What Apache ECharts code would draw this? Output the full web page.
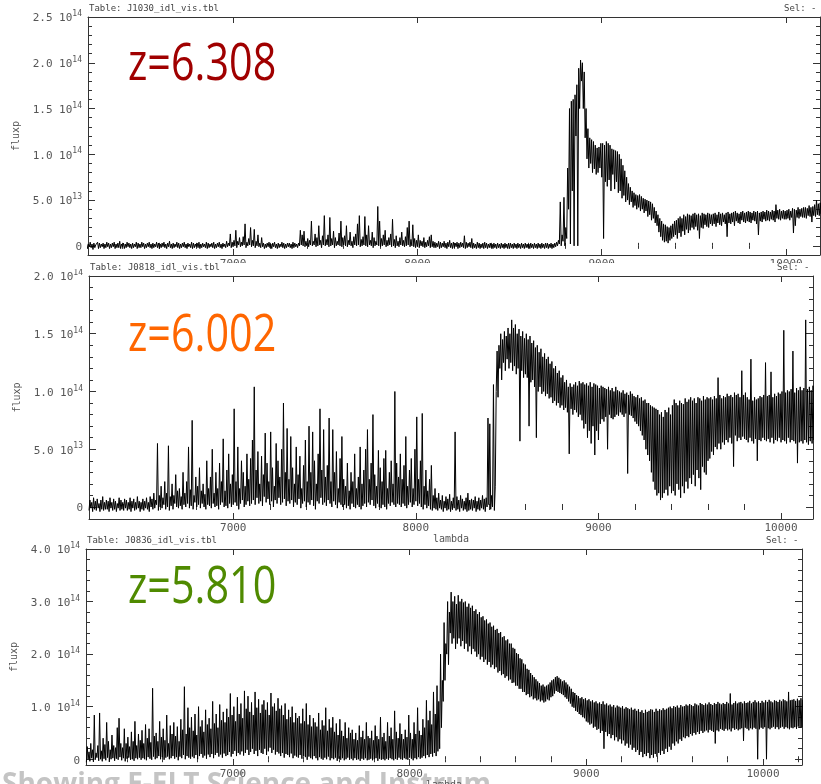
<!DOCTYPE html>
<html><head><meta charset="utf-8">
<script src="https://cdn.jsdelivr.net/npm/echarts@6/dist/echarts.min.js"></script>
<style>html,body{margin:0;padding:0;background:#fff}#c{width:821px;height:784px}</style>
</head><body><div id="c"></div>
<script>
// ---------------- DATA ----------------
// Flux in units of 1e12. Each noisy spectrum is read off the picture as an upper (hi) and lower (lo)
// envelope on a 10 A wavelength grid; the drawn line runs lo -> hi inside every bin.
const step = 10;
const start1 = 6200;
const hi1 = [
3,2,4,2,3,1,4,3,2,3, 2,4,3,2,3,4,2,3,5,2, 3,2,4,3,2,3,2,4,3,2, 4,3,2,3,4,2,3,2,4,3,
2,3,4,2,3,5,2,3,2,4, 3,2,3,4,2,3,2,4,3,2, 3,4,2,3,2,4,3,2,3,4, 2,3,4,2,3,2,5,3,13,4,
6,17,5,9,4,10,24,4,8,20, 6,18,5,12,3,9,3,2,3,4, 2,3,4,2,3,2,4,3,2,3, 3,2,4,3,2,3,17,12,16,5,
8,6,27,5,13,9,22,6,11,33, 7,12,31,8,16,9,5,14,27,9, 11,22,6,15,5,10,13,24,33,7, 10,32,12,22,6,15,9,5,43,27,
8,12,17,6,9,13,29,7,11,5, 9,15,6,10,20,27,7,23,8,6, 12,6,5,9,4,6,10,12,5,4, 3,5,4,3,5,3,4,6,3,4,
3,4,3,4,3,11,4,3,4,8, 3,2,4,3,2,3,4,3,2,3, 2,3,2,3,2,3,2,3,2,3, 3,2,3,2,3,2,3,2,3,2,
2,3,2,3,2,3,2,3,2,3, 3,2,3,2,3,4,6,48,12,53, 20,85,150,158,160,165,176,194,203,200, 190,150,128,118,116,114,110,107,108,112,
112,110,114,112,110,106,105,104,103,100, 95,88,82,75,68,64,60,58,56,55, 56,54,52,51,50,49,48,46,42,38, 34,30,27,24,23,21,20,22,24,27,
28,30,32,30,34,32,35,34,33,35, 36,34,35,33,36,35,34,36,35,34, 35,36,34,37,35,36,34,36,37,35, 36,37,38,36,35,37,38,36,37,38,
37,36,38,37,38,36,37,38,37,39, 38,37,39,38,45,39,40,38,39,38, 39,40,38,41,40,39,42,40,41,42, 42,41,44,42,43,45,50,46,47,45,
52];
const lo1 = [
-2,-3,-1,-2,-4,-2,-1,-3,-2,-1, -3,-2,-1,-3,-2,-1,-3,-2,-2,-3, -1,-3,-2,-1,-2,-3,-2,-1,-3,-2, -2,-1,-3,-2,-1,-2,-3,-2,-1,-2,
-3,-2,-1,-2,-3,-1,-2,-3,-2,-1, -2,-3,-2,-1,-2,-3,-1,-2,-3,-2, -1,-2,-3,-2,-1,-2,-3,-2,-1,-2, -3,-2,-1,-2,-3,-1,-2,-1,0,-2,
-1,0,-2,1,-1,0,1,-2,0,1, -1,0,-2,0,-1,-2,-1,-3,-2,-1, -2,-3,-1,-2,-3,-2,-1,-2,-3,-2, -1,-2,-3,-2,-1,-2,0,1,0,-1,
0,-1,1,0,1,-1,0,1,-2,1, 0,1,-1,0,1,-2,0,1,0,-1, 1,0,-1,1,0,-2,1,0,1,-1, 0,1,0,-1,1,0,-2,0,1,0,
-1,0,1,-1,0,1,-1,0,-2,0, -1,1,0,-1,0,1,-1,0,-1,-2, -1,-2,0,-1,-2,-1,0,-2,-1,-2, -2,-1,-3,-2,-1,-2,-3,-1,-2,-3,
-2,-1,-3,-2,-1,-2,-3,-2,-1,-2, -3,-2,-3,-2,-3,-2,-3,-2,-3,-2, -2,-3,-2,-3,-2,-3,-2,-3,-2,-3, -3,-2,-3,-2,-3,-2,-3,-2,-3,-2,
-2,-3,-2,-3,-2,-3,-2,-3,-2,-3, -2,-3,-2,-3,-2,-1,0,2,0,5, 0,8,40,2,60,0,120,0,150,180, 150,118,95,85,90,80,84,78,80,85,
75,8,70,65,72,60,78,62,70,58, 60,52,55,48,50,45,48,42,44,40, 42,38,40,36,38,32,34,28,30,25, 22,15,10,6,4,5,3,6,8,10,
12,8,14,10,16,12,18,14,17,20, 18,21,17,8,20,19,23,21,20,24, 22,24,21,25,23,22,26,24,10,25, 24,26,22,27,25,24,28,26,25,27,
26,25,28,27,24,12,27,26,29,27, 28,27,29,28,26,30,29,28,30,29, 29,30,28,31,14,22,31,30,32,31, 31,30,33,32,26,33,32,34,33,35,
40];
const start2 = 6210;
const hi2 = [
6,4,8,5,7,3,6,9,4,6, 5,8,4,7,5,3,8,6,4,7, 6,4,8,5,7,4,9,5,4,7, 5,8,4,9,7,12,6,55,10,18,
8,22,12,53,9,20,10,28,14,16, 9,30,12,22,52,15,75,10,26,18, 34,14,20,11,40,16,26,50,12,30, 16,38,22,59,14,32,46,20,28,85,
22,52,16,40,30,18,46,24,42,58, 104,32,48,20,44,28,64,38,22,65, 34,18,55,40,26,50,90,30,68,24, 61,34,20,52,28,44,16,36,58,22,
70,30,65,40,20,46,85,32,67,26, 36,77,22,67,30,48,16,42,61,24, 18,38,14,30,22,46,16,26,52,20, 32,50,67,24,38,80,28,18,49,34,
22,42,49,16,30,40,20,100,38,26, 46,24,36,61,18,32,42,16,50,78, 24,40,81,18,32,14,24,36,10,16, 8,12,6,10,5,9,7,11,5,8,
65,9,6,10,7,5,8,12,6,7, 6,9,5,8,6,10,7,8,77,72, 10,106,18,135,140,150,145,152,148,155, 150,162,155,158,150,154,148,152,146,150,
145,148,142,144,138,140,134,137,130,133, 128,130,124,126,120,122,116,118,112,114, 108,110,104,107,104,106,108,105,109,107, 108,106,107,105,108,104,107,106,105,103,
105,104,103,102,104,101,103,100,104,101, 100,99,101,98,99,97,100,98,96,95, 97,94,95,92,93,90,90,88,87,86, 85,84,80,82,78,84,82,86,80,88,
93,90,88,92,90,89,94,91,93,95, 92,94,90,95,94,92,96,93,95,94, 95,93,96,94,112,97,94,96,95,98, 96,97,95,99,97,98,95,118,97,99,
95,93,128,92,95,93,94,96,95,97, 125,96,97,117,95,98,96,99,98,100, 153,99,101,100,102,135,99,103,101,104, 101,103,162,102,104,101,105,103,106,104];
const lo2 = [
-3,-1,-4,-2,-3,-1,-4,-2,-3,-2, -2,-4,-1,-3,-2,-4,-1,-3,-2,-3, -1,-3,-2,-4,-1,-3,-2,-1,-4,-2, -3,-1,-2,-4,0,-2,-1,2,-3,0,
-1,2,-2,0,-3,1,-2,3,0,-1, 1,-2,2,0,3,-1,1,-2,4,0, 2,-1,3,0,-2,2,1,-1,3,0, 1,-2,2,4,0,1,-1,3,0,2,
4,1,-2,3,6,0,2,5,1,3, 6,2,8,3,5,1,9,4,7,2, 5,0,6,3,8,2,4,7,1,5, 3,6,0,4,2,7,-1,3,5,0,
4,2,6,1,-2,5,3,8,2,4, 1,6,3,0,5,2,-1,4,2,0, 2,-1,1,-2,3,0,-1,2,0,-2, 1,3,0,4,2,6,1,-1,3,0,
-1,2,0,-2,3,1,4,2,0,3, 2,0,3,1,-1,2,4,0,2,5, 1,3,0,-2,2,-1,1,-2,-3,-1, -2,-3,-1,-2,-4,-1,-3,-2,-4,-2,
-1,-3,-2,-4,-1,-3,-2,-4,-3,-2, -3,-1,-4,-2,-3,-1,-2,-4,0,2, -2,0,-3,100,95,120,110,125,118,128, 120,125,118,122,115,120,57,118,112,115,
112,70,108,110,104,60,100,104,98,100, 96,98,94,95,90,92,88,90,86,88, 84,86,82,46,85,80,84,82,78,80, 75,68,72,60,66,55,70,45,66,58,
72,76,74,78,50,80,77,76,78,80, 79,82,80,78,81,29,80,79,77,74, 72,70,66,62,58,50,45,40,30,22, 15,10,12,6,8,12,15,10,18,12,
14,10,20,15,8,18,12,22,16,25, 20,28,18,32,25,15,35,30,28,40, 42,48,45,52,50,55,50,56,54,58, 56,60,55,35,62,57,60,58,61,59,
58,56,60,57,55,59,40,58,57,60, 58,57,59,56,60,55,58,57,60,56, 58,57,55,60,56,58,57,55,38,56, 57,55,58,56,54,57,55,58,56,59];
const start3 = 6170;
const hi3 = [
24,14,30,18,84,12,26,88,16,40, 28,70,34,18,46,26,22,60,78,30, 22,58,30,42,24,52,34,72,26,48, 36,55,30,66,40,58,32,135,44,50,
34,72,42,58,36,84,30,64,48,70, 44,62,34,76,56,138,48,98,60,80, 54,86,46,100,62,74,52,94,66,78, 58,110,68,86,60,104,74,90,70,96,
80,125,84,100,72,118,86,106,78,130, 96,120,90,108,84,128,98,114,88,104, 112,94,108,84,126,100,106,92,116,96, 102,84,106,76,94,80,100,70,88,78,
82,68,96,72,106,66,84,62,78,70, 62,88,56,74,64,98,54,76,60,80, 52,68,46,76,54,44,70,40,60,50, 56,38,50,36,64,42,54,38,70,44,
40,54,36,64,44,38,80,42,50,34, 70,44,60,38,92,52,40,68,48,38, 56,42,84,50,38,70,48,98,54,46, 76,60,112,74,92,66,128,86,140,110,
200,150,260,220,300,280,318,300,310,295, 312,300,305,298,300,290,296,288,292,282, 285,276,280,270,272,264,266,258,260,252, 254,246,248,240,242,232,234,226,228,220,
220,212,210,202,200,192,190,182,180,172, 170,164,160,156,152,148,145,140,142,138, 140,142,146,150,152,156,158,155,152,148, 150,146,142,138,134,128,126,122,120,116,
118,114,116,112,114,110,112,108,110,106, 108,105,110,104,106,102,104,100,103,98, 102,100,98,101,96,99,97,95,98,94, 96,92,95,90,93,88,94,90,92,95,
94,90,96,92,95,93,97,94,96,98, 100,97,101,99,102,98,103,100,101,104, 102,105,103,101,106,104,102,107,105,103, 106,104,108,105,103,107,105,109,106,104,
107,105,109,106,125,104,107,110,106,108, 109,106,110,107,108,111,106,109,112,108, 110,107,111,108,112,109,113,110,108,112, 111,109,113,110,114,112,110,128,112,113,
114,111,115,112,116,113];
const lo3 = [
-6,0,-4,2,-5,-1,3,-3,0,-4, 1,-2,3,-5,0,2,-3,1,-1,4, -2,2,-4,1,3,-1,0,-3,2,0, 3,-1,2,0,-2,4,1,-1,5,0,
2,6,0,4,-1,3,5,0,2,6, 1,4,-2,5,2,8,0,6,3,1, 5,2,8,0,6,10,3,7,1,9, 4,10,2,8,12,5,9,3,11,6,
8,14,5,10,16,6,12,9,15,7, 12,18,8,14,20,10,16,6,18,12, 10,20,8,15,22,12,18,9,14,11, 6,12,3,10,8,4,11,2,7,5,
3,8,1,6,4,-1,5,2,0,6, 2,-2,4,1,-1,3,0,5,-2,2, 0,3,-3,1,-1,2,-2,0,3,-1, 1,-2,2,-1,0,-3,1,-1,2,-2,
-1,1,-2,0,2,-3,1,-1,0,-2, 1,-1,2,0,-2,1,-1,3,0,-1, 2,0,-1,3,1,-2,2,0,4,1, 3,6,2,8,4,10,5,12,6,15,
20,60,110,150,200,180,240,220,230,210, 220,230,215,225,210,220,205,215,200,210, 205,195,200,190,195,185,190,180,185,175, 180,172,175,165,168,160,162,155,158,150,
152,145,146,140,140,134,134,128,128,122, 124,118,120,114,116,112,114,110,112,108, 110,114,112,118,120,125,130,128,126,124, 122,118,115,110,106,100,98,92,90,86,
84,80,78,72,70,66,68,60,62,56, 58,50,54,20,52,44,48,40,46,36, 42,34,38,30,36,26,30,22,28,18, 22,14,18,8,14,4,10,6,12,2,
8,3,10,5,12,8,16,10,20,14, 24,18,30,26,34,30,38,35,42,40, 44,42,48,45,50,47,52,48,54,50, 53,55,51,56,54,52,30,55,53,58,
56,54,58,55,57,53,59,56,58,55, 57,59,35,60,58,55,59,57,60,58, 0,57,60,58,61,0,59,57,60,62, 58,61,57,60,62,58,61,59,57,60,
59,61,58,62,60,61];

const xMajor = [7000, 8000, 9000, 10000];
const xMinor = [6400,6600,6800,7200,7400,7600,7800,8200,8400,8600,8800,9200,9400,9600,9800,10200];
const yMajor1 = [0,50,100,150,200,250], yMant1 = ['0','5.0','1.0','1.5','2.0','2.5'], yExp1 = ['','13','14','14','14','14'];
const yMajor2 = [0,50,100,150,200], yMant2 = ['0','5.0','1.0','1.5','2.0'], yExp2 = ['','13','14','14','14'];
const yMajor3 = [0,100,200,300,400], yMant3 = ['0','1.0','2.0','3.0','4.0'], yExp3 = ['','14','14','14','14'];
const yMinor1 = [10,20,30,40,60,70,80,90,110,120,130,140,160,170,180,190,210,220,230,240];
const yMinor2 = [10,20,30,40,60,70,80,90,110,120,130,140,160,170,180,190];
const yMinor3 = [20,40,60,80,120,140,160,180,220,240,260,280,320,340,360,380];
const tables = ['Table: J1030_idl_vis.tbl', 'Table: J0818_idl_vis.tbl', 'Table: J0836_idl_vis.tbl'];
const zLabels = ['z=6.308', 'z=6.002', 'z=5.810'];
const caption = 'Showing E-ELT Science and Instrumentation';

// ---------------- LAYOUT ----------------
const panels = [
  {start:start1, hi:hi1, lo:lo1, xmin:6213, xmax:10184, ymin:-10, ymax:250, yMaj:yMajor1, yMant:yMant1, yExp:yExp1, yMin:yMinor1,
   grid:{left:88, top:17, width:732, height:238}, zColor:'#a00000', zy:65, lambda:false, nameGap:15},
  {start:start2, hi:hi2, lo:lo2, xmin:6210, xmax:10175, ymin:-10.4, ymax:200, yMaj:yMajor2, yMant:yMant2, yExp:yExp2, yMin:yMinor2,
   grid:{left:89, top:276, width:724, height:243}, zColor:'#ff6600', zy:336, lambda:true, nameGap:15},
  {start:start3, hi:hi3, lo:lo3, xmin:6168, xmax:10221, ymin:-11, ymax:400, yMaj:yMajor3, yMant:yMant3, yExp:yExp3, yMin:yMinor3,
   grid:{left:86, top:549, width:716, height:216}, zColor:'#4f8a00', zy:588, lambda:true, nameGap:13}
];

const MONO = 'DejaVu Sans Mono';
const AX = '#333';
const grids = [], xAxes = [], yAxes = [], series = [], graphics = [];

panels.forEach((p, gi) => {
  grids.push(Object.assign({containLabel:false, outerBoundsMode:'none'}, p.grid));
  const baseX = {type:'value', gridIndex:gi, min:p.xmin, max:p.xmax, splitLine:{show:false}, axisLine:{show:false}};
  const xi = xAxes.length;
  xAxes.push(Object.assign({}, baseX, {position:'bottom', axisLine:{show:true, onZero:false, lineStyle:{color:AX, width:1}},
    axisTick:{show:true, inside:true, length:6, lineStyle:{color:AX}, customValues:xMajor},
    axisLabel:{show:true, customValues:xMajor, formatter:(v)=>String(Math.round(v)), fontFamily:MONO, fontSize:11, color:'#555', margin:4},
    name: p.lambda ? 'lambda' : '', nameLocation:'middle', nameGap:p.nameGap, nameTextStyle:{fontFamily:MONO, fontSize:10, color:'#555'}}));
  xAxes.push(Object.assign({}, baseX, {position:'bottom', axisTick:{show:true, inside:true, length:3, lineStyle:{color:AX}, customValues:xMinor}, axisLabel:{show:false}}));
  xAxes.push(Object.assign({}, baseX, {position:'top', axisLine:{show:true, onZero:false, lineStyle:{color:AX, width:1}},
    axisTick:{show:true, inside:true, length:6, lineStyle:{color:AX}, customValues:xMajor}, axisLabel:{show:false}}));
  xAxes.push(Object.assign({}, baseX, {position:'top', axisTick:{show:true, inside:true, length:3, lineStyle:{color:AX}, customValues:xMinor}, axisLabel:{show:false}}));

  const baseY = {type:'value', gridIndex:gi, min:p.ymin, max:p.ymax, splitLine:{show:false}, axisLine:{show:false}};
  const yi = yAxes.length;
  yAxes.push(Object.assign({}, baseY, {position:'left', axisLine:{show:true, onZero:false, lineStyle:{color:AX, width:1}},
    axisTick:{show:true, inside:true, length:7, lineStyle:{color:AX}, customValues:p.yMaj},
    axisLabel:{show:true, customValues:p.yMaj, margin:6,
      formatter:(v)=>{ const k = p.yMaj.indexOf(Math.round(v)); if (k < 0) return ''; return p.yExp[k] ? '{m|' + p.yMant[k] + ' 10}{e|' + p.yExp[k] + '}' : '{m|' + p.yMant[k] + '}'; },
      rich:{m:{fontFamily:MONO, fontSize:11, color:'#555', lineHeight:14, verticalAlign:'bottom'},
            e:{fontFamily:MONO, fontSize:8, color:'#555', lineHeight:14, verticalAlign:'top'}}},
    name:'fluxp', nameLocation:'middle', nameGap:64, nameRotate:90, nameTextStyle:{fontFamily:MONO, fontSize:10, color:'#555'}}));
  yAxes.push(Object.assign({}, baseY, {position:'left', axisTick:{show:true, inside:true, length:4, lineStyle:{color:AX}, customValues:p.yMin}, axisLabel:{show:false}}));
  yAxes.push(Object.assign({}, baseY, {position:'right', axisLine:{show:true, onZero:false, lineStyle:{color:AX, width:1}},
    axisTick:{show:true, inside:true, length:7, lineStyle:{color:AX}, customValues:p.yMaj}, axisLabel:{show:false}}));
  yAxes.push(Object.assign({}, baseY, {position:'right', axisTick:{show:true, inside:true, length:4, lineStyle:{color:AX}, customValues:p.yMin}, axisLabel:{show:false}}));

  const pts = [];
  p.hi.forEach((h, i) => { const lam = p.start + i*step; pts.push([lam, p.lo[i]]); pts.push([lam + step/2, h]); });
  series.push({type:'line', xAxisIndex:xi, yAxisIndex:yi, showSymbol:false, symbol:'none', clip:true, animation:false,
    lineStyle:{color:'#000', width:1}, data:pts});

  graphics.push({type:'text', left:p.grid.left + 1, top:p.grid.top - 13, z:30,
    style:{text:tables[gi], font:'9px "' + MONO + '"', fill:'#444'}});
  graphics.push({type:'text', left:p.grid.left + p.grid.width - 36, top:p.grid.top - 13, z:30,
    style:{text:'Sel: -', font:'9px "' + MONO + '"', fill:'#444'}});
  graphics.push({type:'text', x:128, y:p.zy, scaleX:0.81, z:30,
    style:{text:zLabels[gi], font:'51px "Open Sans"', fill:p.zColor, textVerticalAlign:'middle', textAlign:'left'}});
});

graphics.push({type:'rect', shape:{x:0, y:263, width:821, height:6}, style:{fill:'#fff'}, z:20});
graphics.push({type:'text', left:2, top:771, z:-1, style:{text:caption, font:'bold 28px "Open Sans"', fill:'#c4c4c4'}});
graphics.push({type:'rect', shape:{x:492, y:767, width:329, height:17}, style:{fill:'#fff'}, z:-1, z2:5});

const chart = echarts.init(document.getElementById('c'), null, {renderer:'canvas'});
chart.setOption({animation:false, backgroundColor:'#fff', grid:grids, xAxis:xAxes, yAxis:yAxes, series:series, graphic:graphics});
</script></body></html>
